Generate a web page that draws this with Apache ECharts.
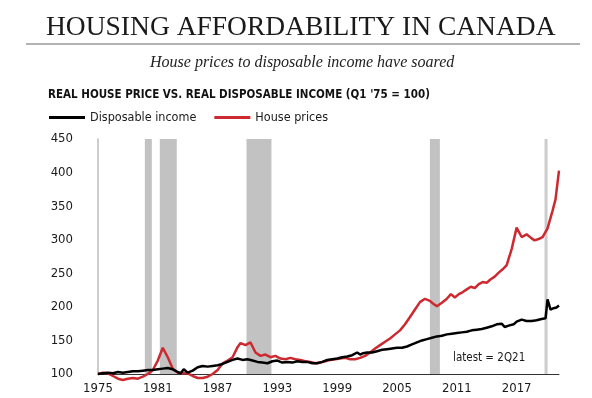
<!DOCTYPE html>
<html>
<head>
<meta charset="utf-8">
<script src="https://cdn.jsdelivr.net/npm/echarts@6/dist/echarts.min.js"></script>
<style>
  html, body { margin: 0; padding: 0; background: #fff; }
  #chart { width: 592px; height: 398px; }
</style>
</head>
<body>
<div id="chart"></div>
<script>
// real disposable income, Q1 '75 = 100
var incomeYears = [1975.0, 1975.5, 1976.0, 1976.5, 1977.0, 1977.5, 1978.0, 1978.5, 1979.0, 1979.5,
  1980.0, 1980.5, 1981.0, 1981.5, 1982.0, 1982.5, 1983.0, 1983.3, 1983.6, 1984.0,
  1984.5, 1985.0, 1985.5, 1986.0, 1986.5, 1987.0, 1987.5, 1988.0, 1988.5, 1989.0,
  1989.5, 1990.0, 1990.5, 1991.0, 1991.5, 1992.0, 1992.5, 1993.0, 1993.5, 1994.0,
  1994.5, 1995.0, 1995.5, 1996.0, 1996.5, 1997.0, 1997.5, 1998.0, 1998.5, 1999.0,
  1999.5, 2000.0, 2000.5, 2001.0, 2001.3, 2001.6, 2002.0, 2002.5, 2003.0, 2003.5,
  2004.0, 2004.5, 2005.0, 2005.5, 2006.0, 2006.5, 2007.0, 2007.5, 2008.0, 2008.5,
  2009.0, 2009.5, 2010.0, 2010.5, 2011.0, 2011.5, 2012.0, 2012.5, 2013.0, 2013.5,
  2014.0, 2014.5, 2015.0, 2015.5, 2015.8, 2016.2, 2016.7, 2017.0, 2017.5, 2018.0,
  2018.5, 2019.0, 2019.5, 2019.9, 2020.1, 2020.4, 2020.7, 2021.0, 2021.25];
var incomeValues = [100, 101, 102, 101, 103, 102, 103, 104, 104, 105,
  106, 106, 107, 108, 109, 107, 103, 101, 107, 102,
  105, 110, 112, 111, 112, 113, 115, 118, 121, 123,
  121, 122, 120, 118, 117, 116, 119, 120, 117, 118,
  117, 119, 118, 118, 116, 116, 118, 121, 122, 123,
  125, 126, 128, 132, 129, 131, 132, 132, 134, 136,
  137, 138, 139, 139, 141, 144, 147, 150, 152, 154,
  156, 157, 159, 160, 161, 162, 163, 165, 166, 167,
  169, 171, 174, 175, 170, 172, 174, 178, 181, 179,
  179, 180, 182, 183, 211, 196, 198, 199, 202];

// real house prices, Q1 '75 = 100
var priceYears = [1975.0, 1975.5, 1976.0, 1976.5, 1977.0, 1977.5, 1978.0, 1978.5, 1979.0, 1979.5,
  1980.0, 1980.5, 1981.0, 1981.5, 1982.0, 1982.5, 1983.0, 1983.5, 1984.0, 1984.5,
  1985.0, 1985.5, 1986.0, 1986.5, 1987.0, 1987.5, 1988.0, 1988.5, 1989.0, 1989.3,
  1989.8, 1990.3, 1990.8, 1991.3, 1991.8, 1992.3, 1992.8, 1993.3, 1993.8, 1994.3,
  1994.8, 1995.3, 1995.8, 1996.3, 1996.8, 1997.3, 1997.8, 1998.3, 1998.8, 1999.3,
  1999.8, 2000.3, 2000.8, 2001.3, 2001.8, 2002.3, 2002.8, 2003.3, 2003.8, 2004.3,
  2004.8, 2005.3, 2005.8, 2006.3, 2006.8, 2007.3, 2007.8, 2008.3, 2008.6, 2009.0,
  2009.5, 2010.0, 2010.4, 2010.8, 2011.2, 2011.6, 2012.0, 2012.4, 2012.8, 2013.2,
  2013.6, 2014.0, 2014.4, 2014.8, 2015.2, 2015.6, 2016.0, 2016.5, 2017.0, 2017.5,
  2018.0, 2018.5, 2018.8, 2019.2, 2019.6, 2020.1, 2020.6, 2020.9, 2021.25];
var priceValues = [100, 102, 101, 97, 93, 91, 93, 94, 93, 96,
  100, 106, 120, 139, 125, 108, 102, 101, 101, 97,
  94, 94, 96, 100, 106, 116, 120, 125, 140, 146,
  143, 147, 132, 127, 129, 125, 127, 123, 122, 124,
  122, 121, 119, 118, 116, 117, 119, 121, 122, 123,
  124, 122, 122, 124, 127, 132, 138, 143, 148, 153,
  159, 165, 174, 185, 196, 207, 212, 209, 205, 201,
  206, 212, 219, 214, 219, 222, 226, 230, 228, 234,
  237, 236, 241, 245, 251, 256, 262, 286, 318, 304,
  308, 302, 299, 301, 304, 317, 343, 360, 403];

// recessions: [start, end]
var recessions = [[1979.7, 1980.4], [1981.2, 1982.9], [1989.9, 1992.4], [2008.3, 2009.3], [2019.8, 2020.1]];

var yTicks = { min: 100, max: 450, step: 50 };
var xTicks = { min: 1975, max: 2021.25, step: 6 };

function pairs (xs, ys) {
  return xs.map(function (x, i) { return [x, ys[i]] })
}

var narrow = '"DejaVu Sans Condensed", "DejaVu Sans", sans-serif';
var serif = '"Liberation Serif", "DejaVu Serif", serif';

var dom = echarts.init(document.getElementById('chart'), null, { renderer: 'canvas' });
var option = {
  animation: false,
  backgroundColor: '#fff',
  title: [{
    text: 'HOUSING AFFORDABILITY IN CANADA',
    left: 46,
    top: 14,
    padding: 0,
    textStyle: { fontFamily: serif, fontSize: 27.5, fontWeight: 'normal', color: '#1a1a1a' }
  }, {
    text: 'House prices to disposable income have soared',
    left: 150,
    top: 55,
    padding: 0,
    textStyle: { fontFamily: serif, fontSize: 16, fontStyle: 'italic', fontWeight: 'normal', color: '#222' }
  }, {
    text: 'REAL HOUSE PRICE VS. REAL DISPOSABLE INCOME (Q1 \'75 = 100)',
    left: 48,
    top: 89,
    padding: 0,
    textStyle: { fontFamily: narrow, fontSize: 11.5, fontWeight: 'bold', color: '#111' }
  }],
  legend: {
    left: 49,
    top: 111,
    padding: 0,
    icon: 'rect',
    itemWidth: 36,
    itemHeight: 3,
    itemGap: 18,
    textStyle: { fontFamily: narrow, fontSize: 12.5, color: '#1a1a1a' },
    data: ['Disposable income', 'House prices']
  },
  grid: { left: 98, right: 33, top: 139, bottom: 24 },
  xAxis: {
    type: 'value',
    min: xTicks.min,
    max: xTicks.max,
    interval: xTicks.step,
    axisLine: { lineStyle: { color: '#333', width: 1 } },
    axisTick: { show: false },
    splitLine: { show: false },
    axisLabel: {
      showMaxLabel: false,
      margin: 8,
      fontFamily: narrow,
      fontSize: 13,
      color: '#1a1a1a',
      formatter: function (v) { return String(Math.round(v)) }
    }
  },
  yAxis: {
    type: 'value',
    min: yTicks.min,
    max: yTicks.max,
    interval: yTicks.step,
    axisLine: { show: true, lineStyle: { color: '#bdbdbd', width: 1.5 } },
    axisTick: { show: false },
    splitLine: { show: false },
    axisLabel: { margin: 25, fontFamily: narrow, fontSize: 13, color: '#1a1a1a' }
  },
  series: [{
    name: 'House prices',
    type: 'line',
    data: pairs(priceYears, priceValues),
    clip: false,
    showSymbol: false,
    symbol: 'none',
    lineStyle: { color: '#cc2a30', width: 2.5 },
    itemStyle: { color: '#cc2a30' },
    z: 3,
    markArea: {
      silent: true,
      itemStyle: { color: '#c2c2c2' },
      data: recessions.map(function (r, i) {
        return [{ xAxis: r[0], itemStyle: { color: i === 4 ? '#cccccc' : '#c2c2c2' } }, { xAxis: r[1] }]
      })
    }
  }, {
    name: 'Disposable income',
    type: 'line',
    data: pairs(incomeYears, incomeValues),
    clip: false,
    showSymbol: false,
    symbol: 'none',
    lineStyle: { color: '#000', width: 2.5 },
    itemStyle: { color: '#000' },
    z: 4
  }],
  graphic: [{
    type: 'line',
    shape: { x1: 26, y1: 44, x2: 580, y2: 44 },
    style: { stroke: '#9a9a9a', lineWidth: 1.5 }
  }, {
    type: 'text',
    left: 453,
    top: 352,
    style: { text: 'latest = 2Q21', font: '11.5px ' + narrow, fill: '#1a1a1a' }
  }]
};
dom.setOption(option);
</script>
</body>
</html>
